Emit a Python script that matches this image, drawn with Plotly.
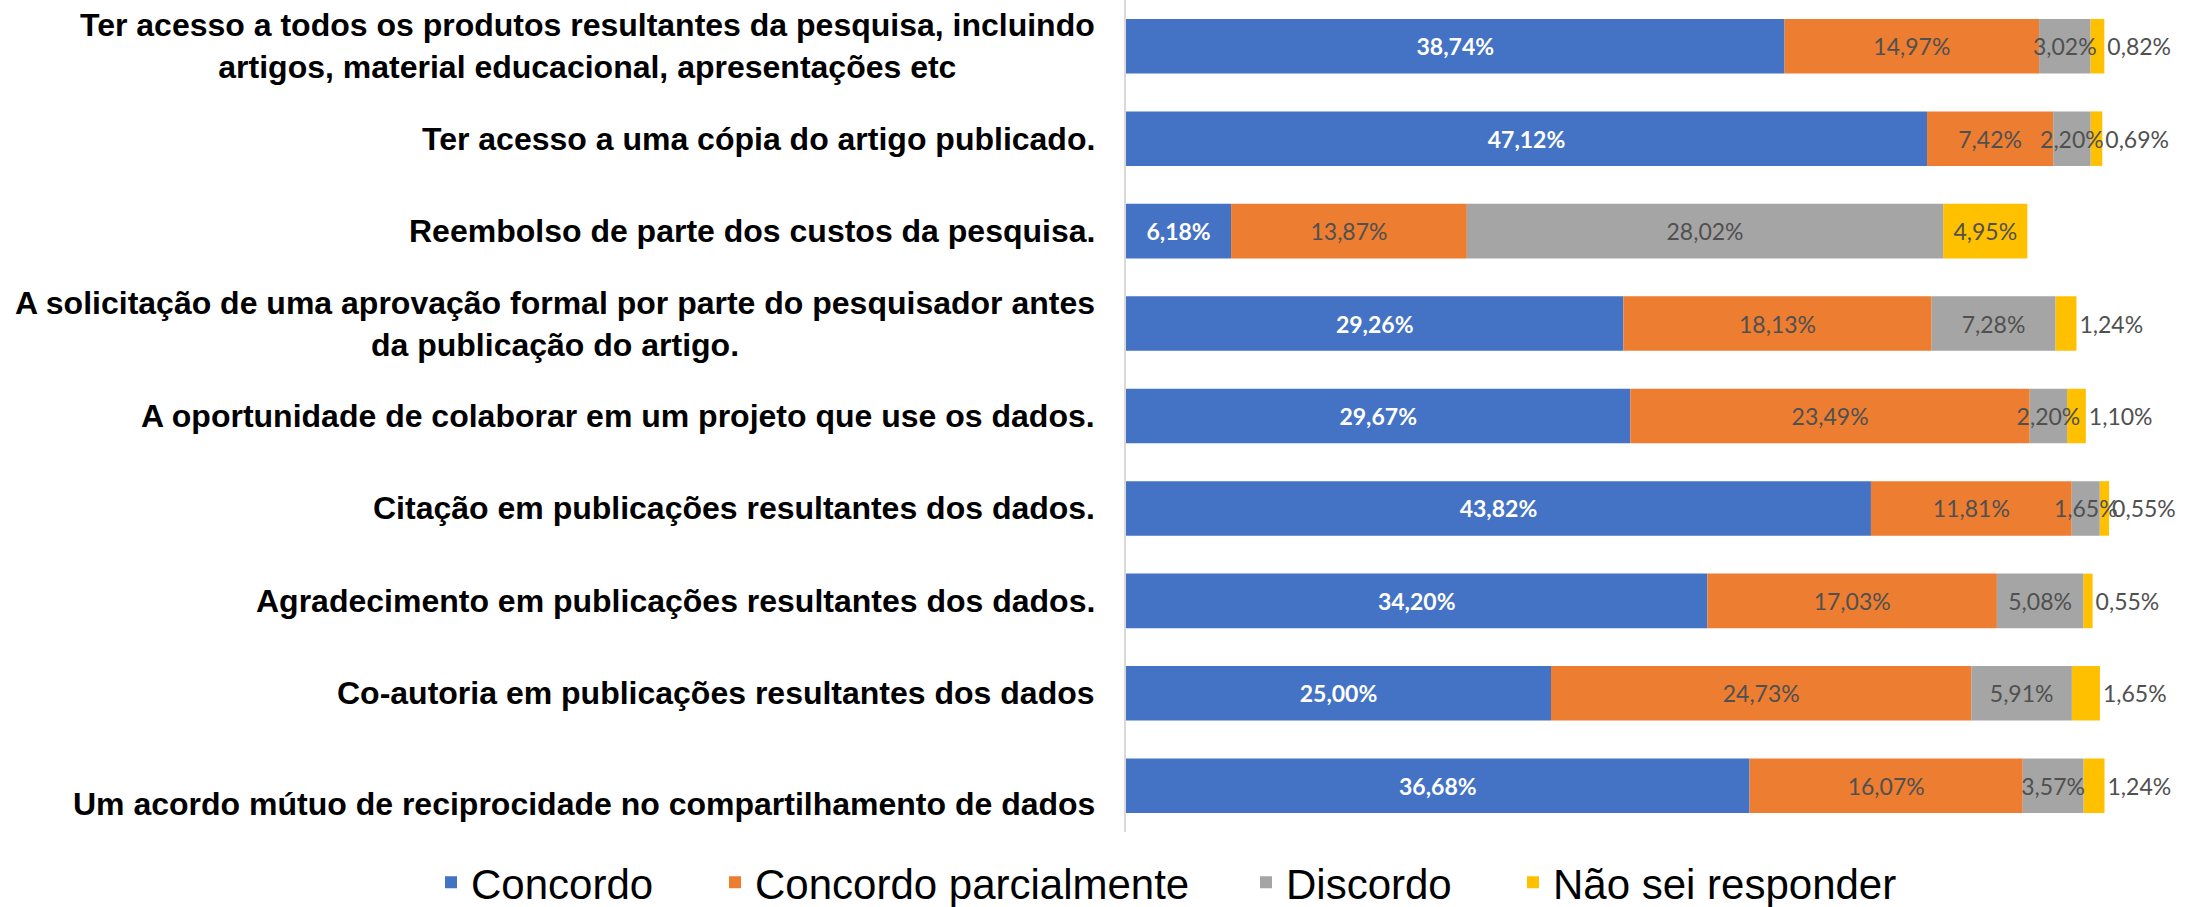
import plotly.graph_objects as go

categories = [
    "Ter acesso a todos os produtos resultantes da pesquisa, incluindo<br>artigos, material educacional, apresentações etc",
    "Ter acesso a uma cópia do artigo publicado.",
    "Reembolso de parte dos custos da pesquisa.",
    "A solicitação de uma aprovação formal por parte do pesquisador antes<br>da publicação do artigo.",
    "A oportunidade de colaborar em um projeto que use os dados.",
    "Citação em publicações resultantes dos dados.",
    "Agradecimento em publicações resultantes dos dados.",
    "Co-autoria em publicações resultantes dos dados",
    "Um acordo mútuo de reciprocidade no compartilhamento de dados",
]
series_names = ["Concordo", "Concordo parcialmente", "Discordo", "Não sei responder"]
concordo = [38.74, 47.12, 6.18, 29.26, 29.67, 43.82, 34.20, 25.00, 36.68]
concordo_parcial = [14.97, 7.42, 13.87, 18.13, 23.49, 11.81, 17.03, 24.73, 16.07]
discordo = [3.02, 2.20, 28.02, 7.28, 2.20, 1.65, 5.08, 5.91, 3.57]
nao_sei = [0.82, 0.69, 4.95, 1.24, 1.10, 0.55, 0.55, 1.65, 1.24]

colors = ["#4472C4", "#ED7D31", "#A5A5A5", "#FFC000"]
values = [concordo, concordo_parcial, discordo, nao_sei]
legend_ids = ["legend", "legend2", "legend3", "legend4"]
legend_left_px = [431, 715, 1246, 1513]

W, H = 2205, 907

# cumulative bases for the stacked segments
bases = []
running = [0.0] * len(categories)
for vals in values:
    bases.append(list(running))
    running = [r + v for r, v in zip(running, vals)]

# draw order: grey after yellow so its overflowing labels stay on top
draw_order = [0, 1, 3, 2]

fig = go.Figure()
for i in draw_order:
    name, vals = series_names[i], values[i]
    if i == 0:
        tfont = dict(family="Lato", size=23, color="white", weight="bold")
    else:
        tfont = dict(family="Lato", size=23, color="#505050")
    if i == 3:
        tpos = ["inside" if v > 3 else "outside" for v in vals]
    else:
        tpos = "inside"
    fig.add_trace(go.Bar(
        y=categories, x=vals, base=bases[i], name=name, orientation="h",
        marker=dict(color=colors[i], line=dict(width=0)),
        texttemplate="%{x:.2f}%", textposition=tpos,
        insidetextanchor="middle",
        textfont=tfont, insidetextfont=tfont,
        outsidetextfont=dict(family="Lato", size=23, color="#505050"),
        textangle=0, constraintext="none", cliponaxis=False,
        legend=legend_ids[i],
    ))

annotations = []
for j, cat in enumerate(categories):
    annotations.append(dict(
        x=0, xref="paper", y=cat, yref="y", text=cat, showarrow=False,
        xanchor="right", yanchor="middle", xshift=-29,
        yshift=-18 if j == len(categories) - 1 else 0,
        align="center",
        font=dict(family="Liberation Sans, Arial", size=32, color="black", weight="bold"),
    ))

legend_font = dict(family="Liberation Sans, Arial", size=42, color="black")
legends = {}
for lid, lx in zip(legend_ids, legend_left_px):
    legends[lid] = dict(orientation="h", xref="container", yref="container",
                        x=lx / W, y=0.027, xanchor="left", yanchor="middle",
                        font=legend_font, itemwidth=30, bgcolor="rgba(0,0,0,0)")

fig.update_layout(
    width=W, height=H,
    barmode="overlay", bargap=0.41,
    separators=",.",
    plot_bgcolor="white", paper_bgcolor="white",
    margin=dict(l=1126, r=8, t=0, b=75, autoexpand=False),
    uniformtext=dict(minsize=23, mode="show"),
    xaxis=dict(range=[0, 63], showgrid=False, showticklabels=False, zeroline=False,
               showline=False, fixedrange=True),
    yaxis=dict(autorange="reversed", showticklabels=False, showgrid=False,
               showline=True, linecolor="#D9D9D9", linewidth=2, ticks=""),
    annotations=annotations,
    showlegend=True,
    **legends,
)

fig.write_html("out.html", config={"displayModeBar": False},
               post_script="document.body.style.margin='0';")
